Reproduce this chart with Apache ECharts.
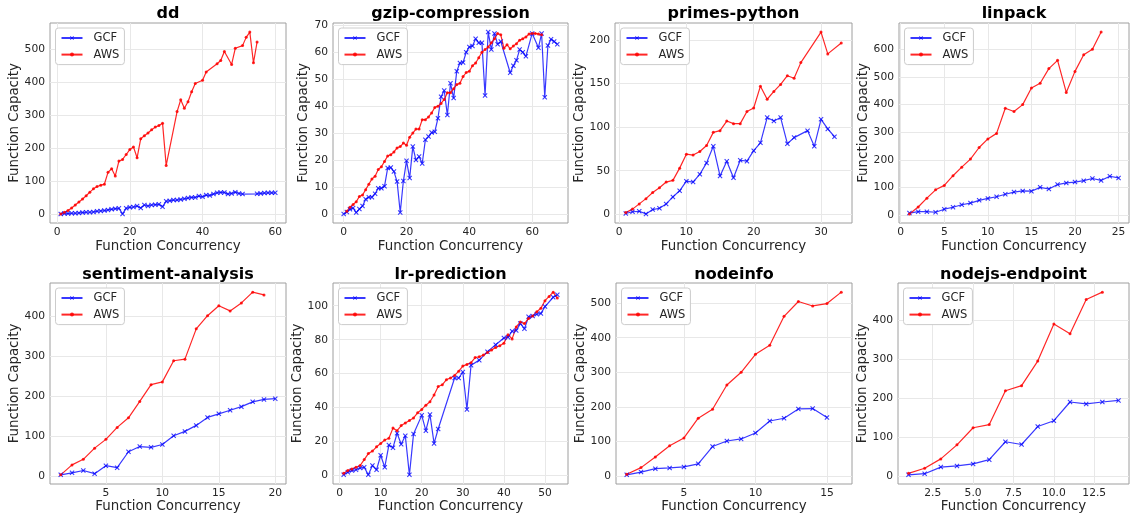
<!DOCTYPE html>
<html>
<head>
<meta charset="utf-8">
<script src="https://cdn.jsdelivr.net/npm/echarts@6/dist/echarts.min.js"></script>
<style>
  html, body { margin: 0; padding: 0; background: #ffffff; }
  #chart { width: 1135px; height: 518px; }
</style>
</head>
<body>
<div id="chart"></div>
<script>
// ---- measured capacity per benchmark: [concurrency, capacity] ----
const ddGCF = [[1,0],[2,1],[3,1],[4,2],[5,2],[6,3],[7,4],[8,5],[9,5],[10,6],[11,8],[12,9],[13,10],[14,12],[15,14],[16,16],[17,17],[18,0],[19,17],[20,20],[21,21],[22,24],[23,18],[24,27],[25,24],[26,27],[27,28],[28,29],[29,22],[30,38],[31,40],[32,42],[33,42],[34,44],[35,46],[36,48],[37,50],[38,50],[39,54],[40,52],[41,57],[42,56],[43,60],[44,64],[45,65],[46,65],[47,60],[48,62],[49,66],[50,62],[51,60],[55,61],[56,62],[57,63],[58,64],[59,64],[60,64]];
const ddAWS = [[1,0],[2,5],[3,10],[4,18],[5,27],[6,36],[7,45],[8,55],[9,66],[10,76],[11,83],[12,87],[13,90],[14,126],[15,137],[16,115],[17,160],[18,165],[19,180],[20,195],[21,203],[22,170],[23,228],[24,237],[25,245],[26,255],[27,263],[28,268],[29,275],[30,147],[33,310],[34,346],[35,320],[36,340],[37,370],[38,395],[40,405],[41,430],[44,455],[45,465],[46,492],[48,453],[49,502],[51,510],[52,535],[53,551],[54,458],[55,521]];

const gzipGCF = [[0,0],[1,0.7],[2,1.7],[3,2.2],[4,0.5],[5,1.8],[6,2.9],[7,5.4],[8,6.2],[9,6.2],[10,7.5],[11,9.5],[12,9.5],[13,10.3],[14,17],[15,17.2],[16,15.7],[17,12],[18,0.5],[19,12.2],[20,19.7],[21,13.3],[22,25],[23,20],[24,21.3],[25,18.7],[26,27.5],[27,28.7],[28,30.2],[29,30.5],[30,35.5],[31,43.5],[32,45.8],[33,36.7],[34,48.5],[35,43],[36,53],[37,56],[38,56.2],[39,60],[40,62],[41,62.3],[42,65],[43,63.5],[44,63.5],[45,44],[46,67.5],[47,61],[48,67],[49,63],[50,64],[53,52.4],[54,55],[55,57],[56,61],[57,60],[58,58.5],[60,67],[62,61.7],[63,67],[64,43.3],[65,62.5],[66,64.8],[67,64],[68,63]];
const gzipAWS = [[1,1],[2,2.5],[3,3.5],[4,4.5],[5,6.5],[6,7],[7,9],[8,11],[9,13],[10,14],[11,16.5],[12,17.5],[13,19.5],[14,21.5],[15,22],[16,23],[17,24.5],[18,25],[19,26.3],[20,25.5],[21,28.5],[22,30],[23,31.5],[24,31.5],[25,35],[26,35],[27,36],[28,37.5],[29,39.5],[30,40],[31,41],[32,42.5],[33,45],[34,45],[35,46.5],[36,48],[37,48.5],[38,51],[39,52.5],[40,53],[41,55],[42,56],[43,58],[44,60],[45,61],[46,62],[47,63.5],[48,65],[49,67],[50,66.5],[51,61.5],[52,62.8],[53,61.3],[54,62.3],[55,63.2],[56,64.5],[57,65],[58,65.7],[59,66.8],[60,67],[61,67],[62,66.8],[63,66.5]];

const primesGCF = [[1,1],[2,3],[3,3.5],[4,0.5],[5,5.5],[6,7],[7,12],[8,20],[9,27],[10,38],[11,37],[12,46],[13,59],[14,78],[15,44],[16,61],[17,42],[18,62],[19,61],[20,73],[21,82],[22,111],[23,107],[24,111],[25,81],[26,88],[28,96],[29,78],[30,109],[31,98],[32,89]];
const primesAWS = [[1,2],[2,6],[3,12],[4,18],[5,25],[6,30.5],[7,37],[8,39],[9,53],[10,69],[11,68],[12,72],[13,79],[14,94],[15,96],[16,107],[17,104],[18,104],[19,118],[20,122],[21,147],[22,132],[23,141],[24,149],[25,159],[26,156],[27,174],[30,209],[31,184],[33,196.5]];

const linpackGCF = [[1,8],[2,13],[3,13],[4,11],[5,22],[6,29],[7,38],[8,44],[9,54],[10,61],[11,67],[12,76],[13,84],[14,88],[15,87],[16,101],[17,95],[18,111],[19,117],[20,120],[21,125],[22,133],[23,126],[24,141],[25,135]];
const linpackAWS = [[1,5],[2,30],[3,62],[4,92],[5,108],[6,143],[7,174],[8,203],[9,245],[10,276],[11,296],[12,387],[13,375],[14,400],[15,460],[16,477],[17,530],[18,560],[19,444],[20,520],[21,580],[22,600],[23,662]];

const sentimentGCF = [[1,3],[2,8],[3,14],[4,6],[5,26],[6,21],[7,61],[8,74],[9,72],[10,79],[11,101],[12,112],[13,127],[14,147],[15,156],[16,165],[17,174],[18,186],[19,192],[20,194]];
const sentimentAWS = [[1,3],[2,28],[3,42],[4,70],[5,92],[6,122],[7,146],[8,187],[9,229],[10,236],[11,289],[12,293],[13,369],[14,402],[15,427],[16,414],[17,434],[18,461],[19,454]];

const lrGCF = [[1,0.5],[2,2],[3,3],[4,3.5],[5,4.5],[6,5],[7,0.5],[8,6],[9,3.5],[10,12],[11,5],[12,18],[13,16.5],[14,25],[15,18.5],[16,23.5],[17,0.5],[18,24.5],[20,35.5],[21,26.5],[22,36],[23,19],[24,27.5],[28,57.5],[29,57.5],[30,61],[31,39],[32,65],[34,68],[36,73],[38,77],[40,81],[41,81.5],[42,85],[43,85.5],[44,89.5],[45,86.5],[46,93.5],[47,94],[48,95],[49,95.5],[50,99.5],[52,105],[53,106.5]];
const lrAWS = [[1,1.5],[2,3],[3,4],[4,5],[5,6],[6,9.5],[7,13],[8,14.5],[9,17],[10,19],[11,21],[12,22],[13,28],[14,26.5],[15,29.5],[16,31],[17,32.5],[18,34],[19,37],[20,39],[21,41.5],[22,43.5],[23,47.5],[24,52.5],[25,53.5],[26,56.5],[27,57.5],[28,59],[29,61.5],[30,64.5],[31,65.5],[32,66.5],[33,69.5],[34,70],[35,71],[36,72.5],[37,74],[38,75.5],[39,76.5],[40,78],[41,83],[42,80.5],[43,87.5],[44,90.5],[45,89.5],[46,92.5],[47,94],[48,96.5],[49,98.5],[50,103],[51,105.5],[52,108],[53,104.5]];

const nodeinfoGCF = [[1,3],[2,11],[3,21],[4,23],[5,26],[6,35],[7,85],[8,101],[9,107],[10,124],[11,159],[12,167],[13,194],[14,195],[15,169]];
const nodeinfoAWS = [[1,5],[2,24],[3,55],[4,87],[5,110],[6,167],[7,193],[8,263],[9,300],[10,352],[11,378],[12,462],[13,505],[14,492],[15,499],[16,532]];

const nodejsGCF = [[1,3],[2,6],[3,23],[4,26],[5,31],[6,42],[7,88],[8,81],[9,127],[10,142],[11,190],[12,185],[13,190],[14,194]];
const nodejsAWS = [[1,7],[2,20],[3,44],[4,80],[5,124],[6,132],[7,219],[8,232],[9,295],[10,390],[11,365],[12,453],[13,472]];

// ---- panel titles and tick values ----
const titles = ['dd', 'gzip-compression', 'primes-python', 'linpack',
                'sentiment-analysis', 'lr-prediction', 'nodeinfo', 'nodejs-endpoint'];
const xTicks = [[0,20,40,60], [0,20,40,60], [0,10,20,30], [0,5,10,15,20,25],
                [5,10,15,20], [0,10,20,30,40,50], [5,10,15], [2.5,5,7.5,10,12.5]];
const yTicks = [[0,100,200,300,400,500], [0,10,20,30,40,50,60,70], [0,50,100,150,200],
                [0,100,200,300,400,500,600], [0,100,200,300,400], [0,20,40,60,80,100],
                [0,100,200,300,400,500], [0,100,200,300,400]];
const xDecimals = [0, 0, 0, 0, 0, 0, 0, 1];
const gcfSets = [ddGCF, gzipGCF, primesGCF, linpackGCF, sentimentGCF, lrGCF, nodeinfoGCF, nodejsGCF];
const awsSets = [ddAWS, gzipAWS, primesAWS, linpackAWS, sentimentAWS, lrAWS, nodeinfoAWS, nodejsAWS];

// ---- layout: plot boxes [left, top, width, height] ----
const boxes = [
  [50, 23, 236, 200], [333, 23, 235, 200], [615, 23, 237, 200], [899, 23, 230, 200],
  [50, 283, 236, 201], [333, 283, 235, 201], [616, 283, 236, 201], [898, 283, 231, 201]
];
const titleY = [14, 14, 14, 14, 274.5, 274.5, 274.5, 274.5];

const FONT = 'DejaVu Sans';
const TEXT = '#262626';
const BLUE = 'rgba(0,0,255,0.78)';
const RED = 'rgba(255,0,0,0.85)';
const CROSS = 'path://M0,1.5L1.5,0L5,3.5L8.5,0L10,1.5L6.5,5L10,8.5L8.5,10L5,6.5L1.5,10L0,8.5L3.5,5Z';

// axis extent with a 5% margin on each side of the data
function padded(values) {
  const lo = Math.min(...values), hi = Math.max(...values);
  const m = (hi - lo) * 0.05;
  return [lo - m, hi + m];
}

const grid = [], xAxis = [], yAxis = [], series = [], legend = [], graphic = [];

boxes.forEach((b, i) => {
  const all = gcfSets[i].concat(awsSets[i]);
  const xr = padded(all.map(p => p[0]));
  const yr = padded(all.map(p => p[1]));
  const dec = xDecimals[i];
  const longest = Math.max(...yTicks[i].map(v => String(v).length));

  grid.push({
    left: b[0], top: b[1], width: b[2], height: b[3],
    show: true, borderColor: '#9e9e9e', borderWidth: 1, backgroundColor: '#fff'
  });

  xAxis.push({
    type: 'value', gridIndex: i, min: xr[0], max: xr[1],
    axisLine: { show: false },
    axisTick: { show: false, customValues: xTicks[i] },
    axisLabel: {
      customValues: xTicks[i], margin: 4, fontSize: 10.7, color: TEXT, fontFamily: FONT,
      formatter: v => Number(v).toFixed(dec)
    },
    splitLine: { show: true, lineStyle: { color: '#e8e8e8', width: 1 } },
    name: 'Function Concurrency', nameLocation: 'middle', nameGap: i < 4 ? 17.5 : 15.5,
    nameTextStyle: { fontSize: 13.4, color: TEXT, fontFamily: FONT }
  });

  yAxis.push({
    type: 'value', gridIndex: i, min: yr[0], max: yr[1],
    axisLine: { show: false },
    axisTick: { show: false, customValues: yTicks[i] },
    axisLabel: {
      customValues: yTicks[i], margin: 5, fontSize: 10.7, color: TEXT, fontFamily: FONT,
      formatter: v => String(Math.round(v))
    },
    splitLine: { show: true, lineStyle: { color: '#e8e8e8', width: 1 } },
    name: 'Function Capacity', nameLocation: 'middle', nameGap: 6 + 6.8 * longest,
    nameTextStyle: { fontSize: 13.4, color: TEXT, fontFamily: FONT }
  });

  series.push({
    name: 'GCF', type: 'line', xAxisIndex: i, yAxisIndex: i, data: gcfSets[i],
    symbol: CROSS, symbolSize: 5, showAllSymbol: true,
    lineStyle: { color: BLUE, width: 1.2 }, itemStyle: { color: BLUE },
    emphasis: { disabled: true }, animation: false
  });
  series.push({
    name: 'AWS', type: 'line', xAxisIndex: i, yAxisIndex: i, data: awsSets[i],
    symbol: 'circle', symbolSize: 3, showAllSymbol: true,
    lineStyle: { color: RED, width: 1.2 }, itemStyle: { color: RED },
    emphasis: { disabled: true }, animation: false
  });

  legend.push({
    data: ['GCF', 'AWS'], orient: 'vertical', left: b[0] + 5.5, top: b[1] + 5,
    itemWidth: 21, itemHeight: 5, itemGap: 4.6, padding: [4, 5, 4, 5],
    borderColor: '#cccccc', borderWidth: 1, borderRadius: 3, backgroundColor: '#ffffff',
    textStyle: { fontSize: 11.5, color: TEXT, fontFamily: FONT, lineHeight: 12, padding: [0, 0, 0, 6] },
    selectedMode: false
  });

  graphic.push({
    type: 'text', x: b[0] + b[2] / 2, y: titleY[i],
    style: {
      text: titles[i], align: 'center', verticalAlign: 'middle',
      font: 'bold 16px "DejaVu Sans"', fill: '#000'
    }
  });
});

const chart = echarts.init(document.getElementById('chart'), null, { renderer: 'canvas' });
chart.setOption({
  backgroundColor: '#ffffff',
  animation: false,
  grid, xAxis, yAxis, series, legend, graphic
});
</script>
</body>
</html>
